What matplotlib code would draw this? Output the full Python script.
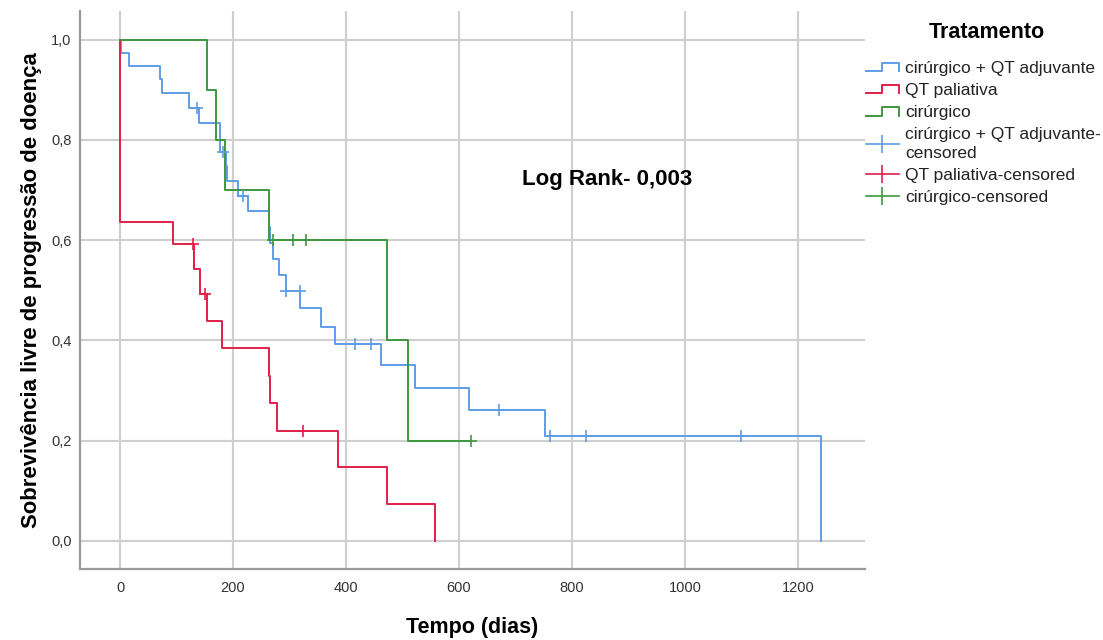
import numpy as np
import matplotlib
matplotlib.use('Agg')
import matplotlib.pyplot as plt
from matplotlib.lines import Line2D
from matplotlib.legend_handler import HandlerBase
from matplotlib.ticker import FuncFormatter

plt.rcParams['font.family'] = ['Liberation Sans', 'DejaVu Sans']

# Kaplan-Meier curves (time in days, survival after the step)
adj_t = [0, 1, 16, 71, 75, 122, 139, 177, 188, 190, 209, 227, 263, 266, 270,
         281, 294, 319, 356, 380, 462, 522, 617, 752, 1241]
adj_s = [1.0, 0.974, 0.947, 0.921, 0.893, 0.864, 0.834, 0.776, 0.747, 0.717,
         0.688, 0.658, 0.627, 0.594, 0.562, 0.530, 0.499, 0.464, 0.427, 0.392,
         0.350, 0.306, 0.261, 0.209, 0.0]
adj_cens = [136, 183, 217, 294, 318, 416, 444, 671, 761, 825, 1100]

pal_t = [0, 0, 93, 130, 142, 153, 180, 264, 265, 277, 385, 472, 557]
pal_s = [1.0, 0.637, 0.592, 0.542, 0.493, 0.439, 0.384, 0.329, 0.275, 0.220,
         0.147, 0.074, 0.0]
pal_cens = [129, 150, 323]

cir_t = [0, 153, 169, 186, 264, 473, 509, 621]
cir_s = [1.0, 0.9, 0.8, 0.7, 0.6, 0.4, 0.2, 0.2]
cir_cens = [271, 307, 329, 621]

labels = ['cirúrgico + QT adjuvante', 'QT paliativa', 'cirúrgico',
          'cirúrgico + QT adjuvante-\ncensored', 'QT paliativa-censored',
          'cirúrgico-censored']
colors = ['#5e9de6', '#e0204a', '#3f973f']


def surv_at(times, surv, t):
    # value of the step function at time t
    i = np.searchsorted(times, t, side='right') - 1
    return surv[i]


class StepHandler(HandlerBase):
    def create_artists(self, legend, orig_handle, xdescent, ydescent,
                       width, height, fontsize, trans):
        xs = np.array([0, 0.5, 0.5, 1.0, 1.0]) * width - xdescent
        ys = np.array([0.15, 0.15, 0.85, 0.85, 0.15]) * height - ydescent
        ln = Line2D(xs, ys, color=orig_handle.get_color(),
                    lw=orig_handle.get_linewidth())
        ln.set_transform(trans)
        return [ln]


fig = plt.figure(figsize=(11.03, 6.4), dpi=100)
ax = fig.add_axes([80 / 1103, 1 - 569 / 640, 785 / 1103, 558 / 640])

steps = []
cens = []
for t, s, c, col in [(adj_t, adj_s, adj_cens, colors[0]),
                     (pal_t, pal_s, pal_cens, colors[1]),
                     (cir_t, cir_s, cir_cens, colors[2])]:
    ln, = ax.step(t, s, where='post', color=col, lw=1.4, zorder=3)
    steps.append(ln)
    cy = [surv_at(t, s, x) for x in c]
    ax.plot(c, cy, ls='none', marker='+', ms=8, mew=1.2, color=col, zorder=4)
    cens.append(Line2D([], [], color=col, marker='|', ms=13, mew=1.2, lw=1.2))

ax.set_xlim(-71, 1319)
ax.set_ylim(-0.056, 1.057)
ax.set_xticks(np.arange(0, 1201, 200))
ax.set_yticks(np.arange(0, 1.01, 0.2))
ax.yaxis.set_major_formatter(FuncFormatter(lambda v, p: f'{v:.1f}'.replace('.', ',')))
ax.tick_params(length=0, labelsize=10.5, colors='#333333')
ax.tick_params(axis='y', pad=6)
ax.tick_params(axis='x', pad=9)
ax.grid(True, color='#cfcfcf', lw=1.5, zorder=0)
ax.set_axisbelow(True)
for side in ['top', 'right']:
    ax.spines[side].set_visible(False)
for side in ['left', 'bottom']:
    ax.spines[side].set_color('#9a9a9a')
    ax.spines[side].set_linewidth(1.6)

ax.set_xlabel('Tempo (dias)', fontsize=15.5, fontweight='bold')
ax.set_ylabel('Sobrevivência livre de progressão de doença', fontsize=15.9,
              fontweight='bold')
ax.xaxis.set_label_coords(0.5, -0.086)
ax.yaxis.set_label_coords(-0.049, 0.5)

ax.text(711, 0.72, 'Log Rank- 0,003', fontsize=16, fontweight='bold',
        va='center', ha='left')

# legend title drawn on its own so the gap to the entries matches
fig.text(987 / 1103, 1 - 33 / 640, 'Tratamento', fontsize=15.5,
         fontweight='bold', ha='center', va='center')

hmap = {ln: StepHandler() for ln in steps}
leg = fig.legend(steps + cens, labels, handler_map=hmap, loc='upper left',
                 bbox_to_anchor=(866 / 1103, 1 - 61 / 640), frameon=False,
                 fontsize=12.5, handlelength=1.9,
                 handletextpad=0.35, labelspacing=0.4, borderaxespad=0,
                 borderpad=0)
for txt in leg.get_texts():
    txt.set_linespacing(1.3)
    txt.set_color('#222222')

fig.savefig('out.png', dpi=100)
